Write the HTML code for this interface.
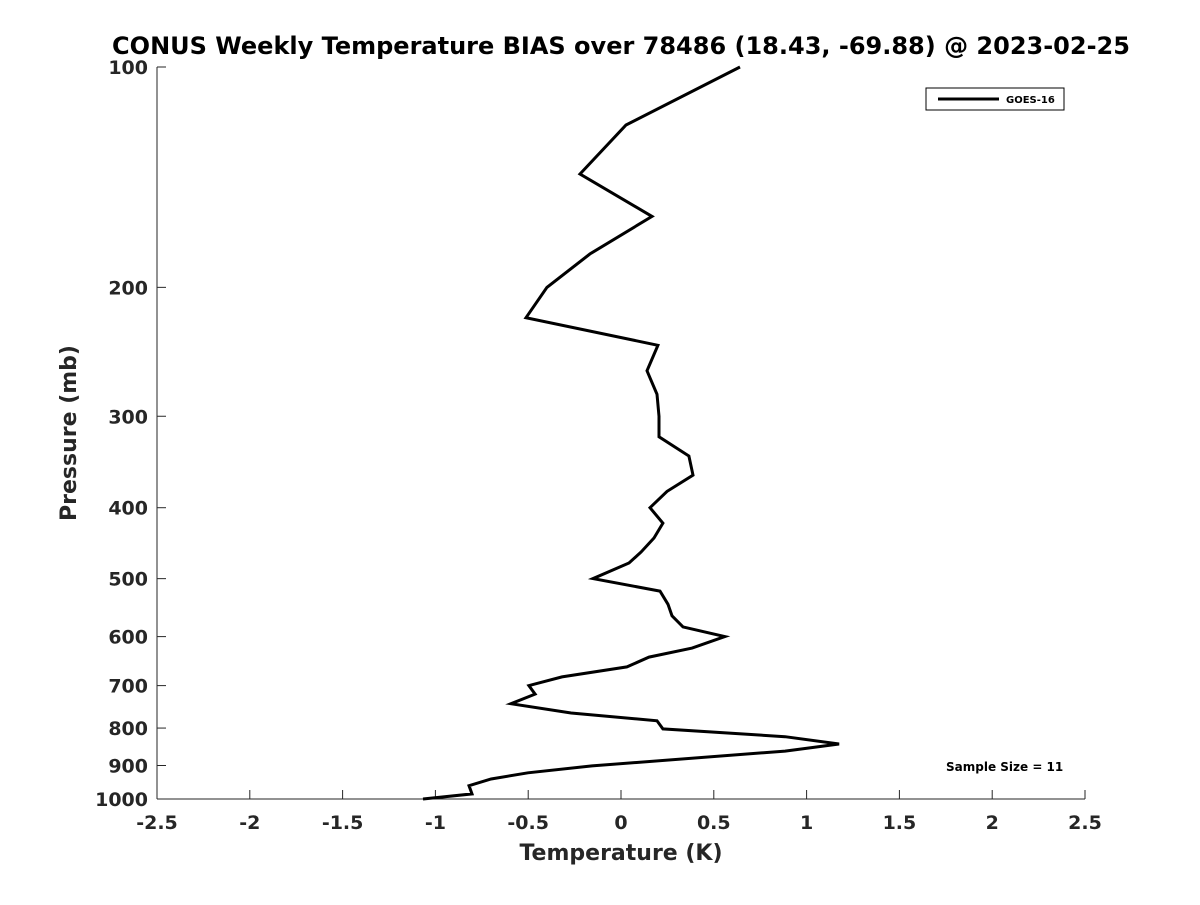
<!DOCTYPE html>
<html><head><meta charset="utf-8"><style>
body{margin:0;background:#fff;}
text{font-family:"DejaVu Sans","Liberation Sans",sans-serif;font-weight:bold;fill:#262626;}
</style></head><body>
<svg id="chart" width="1200" height="900" xmlns="http://www.w3.org/2000/svg">
<rect width="1200" height="900" fill="#fff"/>
<text x="621" y="54" text-anchor="middle" font-size="24" style="fill:#000">CONUS Weekly Temperature BIAS over 78486 (18.43, -69.88) @ 2023-02-25</text>
<g id="axes"></g>
<path id="line" fill="none" stroke="#000" stroke-width="3" stroke-linejoin="miter"/>
<g>
<rect x="926" y="88" width="138" height="22" fill="#fff" stroke="#000" stroke-width="1"/>
<line x1="938" y1="99" x2="999" y2="99" stroke="#000" stroke-width="3"/>
<text x="1006" y="103" font-size="10" style="fill:#000">GOES-16</text>
</g>
<text x="946" y="771" font-size="12" style="fill:#000">Sample Size = 11</text>
<text x="621" y="860" text-anchor="middle" font-size="22">Temperature (K)</text>
<text transform="translate(76,433) rotate(-90)" text-anchor="middle" font-size="22">Pressure (mb)</text>
</svg>
<script>
const temps=[0.641,0.027,-0.221,0.167,-0.167,-0.399,-0.512,0.199,0.140,0.194,0.205,0.205,0.366,0.388,0.248,0.156,0.226,0.178,0.108,0.043,-0.151,0.210,0.253,0.275,0.334,0.560,0.383,0.151,0.032,-0.318,-0.496,-0.463,-0.593,-0.269,0.194,0.226,0.884,1.175,0.884,-0.156,-0.501,-0.700,-0.819,-0.803,-1.067];
const pressures=[100,120,140,160,180,200,220,240,260,280,300,320,340,361,380,400,420,440,460,476,500,520,542,562,582,600,622,640,660,681,700,719,741,763,782,802,822,841,860,901,921,939,959,984,1000];
const xTicks=[-2.5,-2,-1.5,-1,-0.5,0,0.5,1,1.5,2,2.5];
const yTicks=[100,200,300,400,500,600,700,800,900,1000];
const L=157,R=1085,T=67,B=799;
const xs=v=>L+(v+2.5)/5*(R-L);
const ys=p=>T+Math.log10(p/100)*(B-T);
const NS="http://www.w3.org/2000/svg";
const ax=document.getElementById('axes');
function mk(tag,attrs,txt){const e=document.createElementNS(NS,tag);for(const k in attrs)e.setAttribute(k,attrs[k]);if(txt!==undefined)e.textContent=txt;ax.appendChild(e);return e;}
let e=mk('line',{x1:L,y1:B,x2:R,y2:B,stroke:'#262626','stroke-width':1});


e=mk('line',{x1:L,y1:T,x2:L,y2:B,stroke:'#262626','stroke-width':1});


xTicks.forEach(v=>{const x=xs(v);
 let t=mk('line',{x1:x,y1:B,x2:x,y2:B-9,stroke:'#262626'});
 
 
 let l=mk('text',{x:x,y:B+30,'text-anchor':'middle','font-size':19},String(v));
 
 
});
yTicks.forEach(p=>{const y=ys(p);
 let t=mk('line',{x1:L,y1:y,x2:L+9,y2:y,stroke:'#262626'});
 
 
 let l=mk('text',{x:L-9,y:y+7,'text-anchor':'end','font-size':19},String(p));
 
 
});
document.getElementById('line').setAttribute('d',temps.map((t,i)=>(i?'L':'M')+xs(t).toFixed(1)+','+ys(pressures[i]).toFixed(1)).join(''));
</script>
</body></html>
